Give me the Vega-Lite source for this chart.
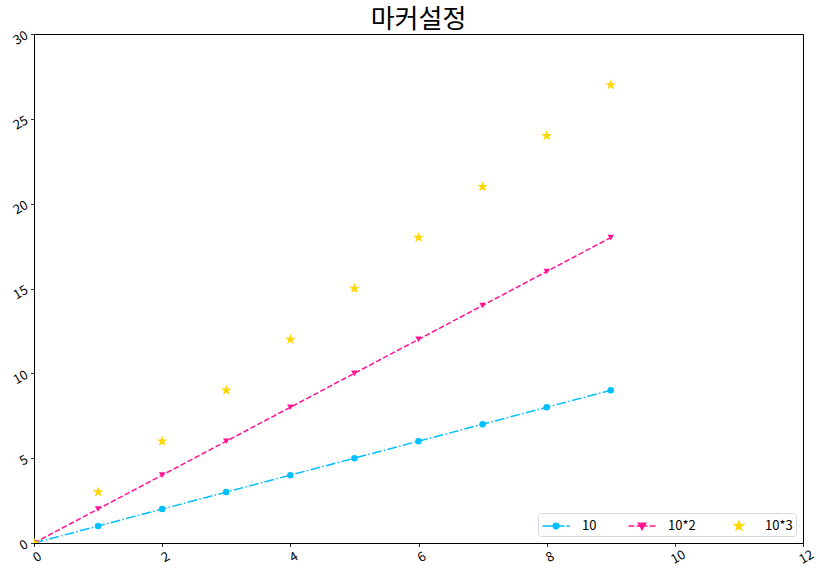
{
  "$schema": "https://vega.github.io/schema/vega-lite/v6.json",
  "description": "마커설정",
  "width": 769,
  "height": 509,
  "autosize": "none",
  "padding": {"left": 34, "top": 34, "right": 17, "bottom": 32},
  "title": {"text": "마커설정", "fontSize": 26, "fontWeight": "normal", "font": "Noto Sans CJK KR", "color": "black", "offset": -4},
  "data": {
    "values": [
      {"x": 0, "y": 0, "s": "10"}, {"x": 1, "y": 1, "s": "10"}, {"x": 2, "y": 2, "s": "10"}, {"x": 3, "y": 3, "s": "10"}, {"x": 4, "y": 4, "s": "10"},
      {"x": 5, "y": 5, "s": "10"}, {"x": 6, "y": 6, "s": "10"}, {"x": 7, "y": 7, "s": "10"}, {"x": 8, "y": 8, "s": "10"}, {"x": 9, "y": 9, "s": "10"},
      {"x": 0, "y": 0, "s": "10*2"}, {"x": 1, "y": 2, "s": "10*2"}, {"x": 2, "y": 4, "s": "10*2"}, {"x": 3, "y": 6, "s": "10*2"}, {"x": 4, "y": 8, "s": "10*2"},
      {"x": 5, "y": 10, "s": "10*2"}, {"x": 6, "y": 12, "s": "10*2"}, {"x": 7, "y": 14, "s": "10*2"}, {"x": 8, "y": 16, "s": "10*2"}, {"x": 9, "y": 18, "s": "10*2"},
      {"x": 0, "y": 0, "s": "10*3"}, {"x": 1, "y": 3, "s": "10*3"}, {"x": 2, "y": 6, "s": "10*3"}, {"x": 3, "y": 9, "s": "10*3"}, {"x": 4, "y": 12, "s": "10*3"},
      {"x": 5, "y": 15, "s": "10*3"}, {"x": 6, "y": 18, "s": "10*3"}, {"x": 7, "y": 21, "s": "10*3"}, {"x": 8, "y": 24, "s": "10*3"}, {"x": 9, "y": 27, "s": "10*3"}
    ]
  },
  "encoding": {
    "x": {
      "field": "x", "type": "quantitative",
      "scale": {"domain": [0, 12], "nice": false, "zero": false},
      "axis": {"values": [0, 2, 4, 6, 8, 10, 12], "title": null, "grid": false, "labelAngle": -30, "labelAlign": "center", "labelBaseline": "top", "labelPadding": 5}
    },
    "y": {
      "field": "y", "type": "quantitative",
      "scale": {"domain": [0, 30], "nice": false},
      "axis": {"values": [0, 5, 10, 15, 20, 25, 30], "title": null, "grid": false, "labelAngle": -30, "labelAlign": "right", "labelBaseline": "middle", "labelPadding": 4}
    },
    "color": {
      "field": "s", "type": "nominal",
      "scale": {"domain": ["10", "10*2", "10*3"], "range": ["#00BFFF", "#FF1493", "#FFD700"]},
      "legend": {
        "title": null,
        "orient": "bottom-right",
        "offset": 7,
        "columns": 3,
        "columnPadding": 28,
        "padding": 3,
        "strokeColor": "#d9d9d9",
        "fillColor": "white",
        "cornerRadius": 3,
        "symbolSize": 324,
        "symbolOffset": 5,
        "symbolStrokeWidth": 1.5,
        "labelOffset": 16,
        "labelFontSize": 13,
        "labelFont": "Noto Sans CJK KR",
        "labelColor": "black",
        "encode": {
          "symbols": {
            "update": {
              "shape": {"signal": "datum.value === '10' ? 'M-1.5,0H-0.3M0.3,0H0.95M1.17,0H1.5M-0.3,0A0.3,0.3 0 1,0 0.3,0A0.3,0.3 0 1,0 -0.3,0Z' : datum.value === '10*2' ? 'M-1.5,0H-0.85M-0.6,0H0.6M0.85,0H1.5M-0.4,-0.3L0.4,-0.3L0,0.4Z' : 'M0,-0.5L0.112,-0.155L0.476,-0.155L0.182,0.059L0.294,0.405L0,0.191L-0.294,0.405L-0.182,0.059L-0.476,-0.155L-0.112,-0.155Z'"},
              "fill": {"scale": "color", "field": "value"},
              "stroke": {"scale": "color", "field": "value"},
              "strokeWidth": {"value": 1.5},
              "strokeDash": {"value": []},
              "opacity": {"value": 1}
            }
          }
        }
      }
    }
  },
  "layer": [
    {
      "transform": [{"filter": "datum.s === '10'"}],
      "mark": {"type": "line", "strokeWidth": 1.5, "clip": true, "strokeDash": [9.6, 2.4, 1.5, 2.4]}
    },
    {
      "transform": [{"filter": "datum.s === '10*2'"}],
      "mark": {"type": "line", "strokeWidth": 1.5, "clip": true, "strokeDash": [5.5, 2.4]}
    },
    {
      "transform": [{"filter": "datum.s === '10'"}],
      "mark": {"type": "point", "shape": "circle", "filled": true, "opacity": 1, "size": 42, "clip": true}
    },
    {
      "transform": [{"filter": "datum.s === '10*2'"}],
      "mark": {"type": "point", "shape": "triangle-down", "filled": true, "opacity": 1, "size": 42, "clip": true}
    },
    {
      "transform": [{"filter": "datum.s === '10*3'"}],
      "mark": {"type": "point", "shape": "M0,-1L0.2245,-0.309L0.951,-0.309L0.363,0.118L0.588,0.809L0,0.382L-0.588,0.809L-0.363,0.118L-0.951,-0.309L-0.2245,-0.309Z", "filled": true, "opacity": 1, "size": 130, "clip": true}
    }
  ],
  "config": {
    "view": {"stroke": "black", "strokeWidth": 1},
    "font": "Noto Sans CJK KR",
    "axis": {
      "domainColor": "black", "domainWidth": 1, "tickColor": "black", "tickWidth": 0.8, "tickSize": 3.5,
      "labelFontSize": 13, "labelColor": "black", "labelFont": "Noto Sans CJK KR"
    }
  }
}
